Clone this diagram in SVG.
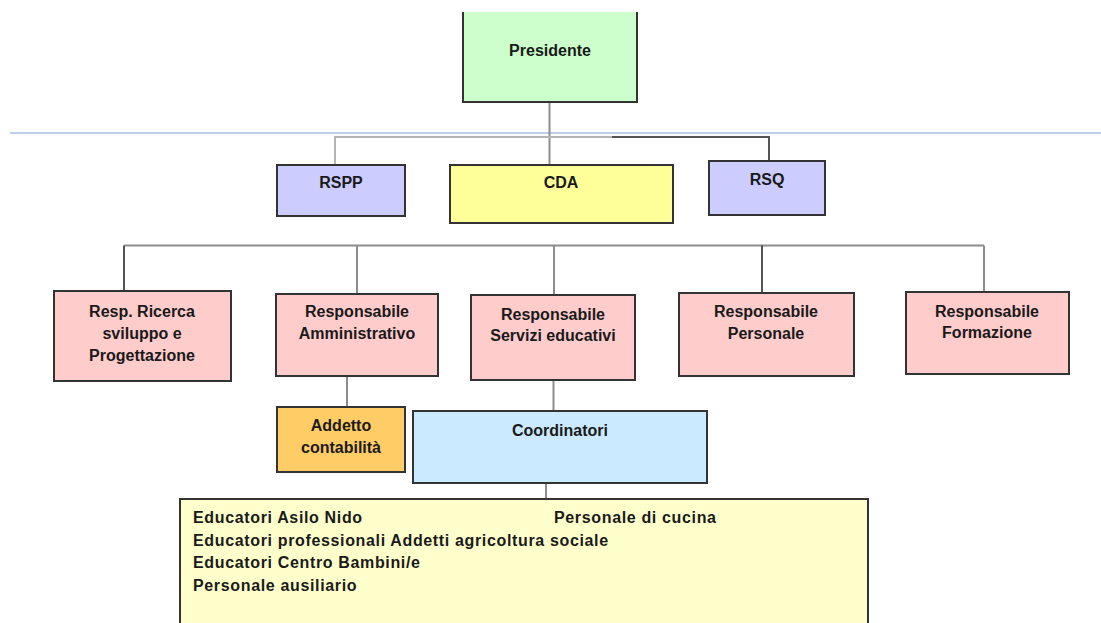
<svg xmlns="http://www.w3.org/2000/svg" width="1101" height="623" viewBox="0 0 1101 623">
<style>
.box{stroke:#333;stroke-width:2}
.t{font-family:"Liberation Sans",Arial,sans-serif;font-weight:bold;font-size:16px;fill:#1a1a1a;text-anchor:middle}
.l{font-family:"Liberation Sans",Arial,sans-serif;font-weight:bold;font-size:16px;fill:#1a1a1a;letter-spacing:0.65px}
.c{stroke:#8c8c8c;stroke-width:2;fill:none}
.cl{stroke:#b4b4b4;stroke-width:2;fill:none}
.cd{stroke:#555;stroke-width:2;fill:none}
.green{fill:#ccffcc}.yellow{fill:#ffff99}.violet{fill:#ccccff}.pink{fill:#ffcccc}.orange{fill:#ffcc66}.sky{fill:#cceaff}.cream{fill:#ffffcc}
</style>
<rect width="1101" height="623" fill="#ffffff"/>
<line x1="10" y1="133" x2="1101" y2="133" stroke="#a6bee4" stroke-width="1.5"/>
<g id="connectors">
<line class="c" x1="549.5" y1="102" x2="549.5" y2="165"/>
<polyline class="cl" points="335,165 335,137 612,137"/>
<polyline class="cd" points="612,137 769,137 769,161"/>
<line class="c" x1="124" y1="245.5" x2="984" y2="245.5"/>
<line class="cd" x1="124" y1="245.5" x2="124" y2="291"/>
<line class="c" x1="984" y1="245.5" x2="984" y2="292"/>
<line class="c" x1="357" y1="245.5" x2="357" y2="294"/>
<line class="c" x1="554" y1="245.5" x2="554" y2="295"/>
<line class="cd" x1="762" y1="245.5" x2="762" y2="293"/>
<line class="c" x1="347" y1="376" x2="347" y2="407"/>
<line class="c" x1="553.5" y1="380" x2="553.5" y2="411"/>
<line class="c" x1="546" y1="483" x2="546" y2="499"/>
</g>
<g id="presidente">
<rect class="green" x="463" y="12" width="174" height="90"/>
<path d="M463,12 V102 H637 V12" fill="none" stroke="#333" stroke-width="2"/>
<text class="t" x="550" y="56">Presidente</text>
</g>
<g id="rspp">
<rect class="box violet" x="277" y="165" width="128" height="51"/>
<text class="t" x="341" y="188">RSPP</text>
</g>
<g id="cda">
<rect class="box yellow" x="450" y="165" width="223" height="58"/>
<text class="t" x="561" y="188">CDA</text>
</g>
<g id="rsq">
<rect class="box violet" x="709" y="161" width="116" height="54"/>
<text class="t" x="767" y="185">RSQ</text>
</g>
<g id="resp-ricerca">
<rect class="box pink" x="54" y="291" width="177" height="90"/>
<text class="t" x="142" y="317">Resp. Ricerca</text>
<text class="t" x="142" y="339">sviluppo e</text>
<text class="t" x="142" y="361">Progettazione</text>
</g>
<g id="resp-amministrativo">
<rect class="box pink" x="276" y="294" width="162" height="82"/>
<text class="t" x="357" y="317">Responsabile</text>
<text class="t" x="357" y="339">Amministrativo</text>
</g>
<g id="resp-servizi">
<rect class="box pink" x="471" y="295" width="164" height="85"/>
<text class="t" x="553" y="320">Responsabile</text>
<text class="t" x="553" y="341">Servizi educativi</text>
</g>
<g id="resp-personale">
<rect class="box pink" x="679" y="293" width="175" height="83"/>
<text class="t" x="766" y="317">Responsabile</text>
<text class="t" x="766" y="339">Personale</text>
</g>
<g id="resp-formazione">
<rect class="box pink" x="906" y="292" width="163" height="82"/>
<text class="t" x="987" y="317">Responsabile</text>
<text class="t" x="987" y="338">Formazione</text>
</g>
<g id="addetto-contabilita">
<rect class="box orange" x="277" y="407" width="128" height="65"/>
<text class="t" x="341" y="431">Addetto</text>
<text class="t" x="341" y="453">contabilità</text>
</g>
<g id="coordinatori">
<rect class="box sky" x="413" y="411" width="294" height="72"/>
<text class="t" x="560" y="436">Coordinatori</text>
</g>
<g id="personale">
<rect class="box cream" x="180" y="499" width="688" height="140"/>
<text class="l" x="193" y="523">Educatori Asilo Nido</text>
<text class="l" x="554" y="523">Personale di cucina</text>
<text class="l" x="193" y="546">Educatori professionali Addetti agricoltura sociale</text>
<text class="l" x="193" y="568">Educatori Centro Bambini/e</text>
<text class="l" x="193" y="591">Personale ausiliario</text>
</g>
</svg>
